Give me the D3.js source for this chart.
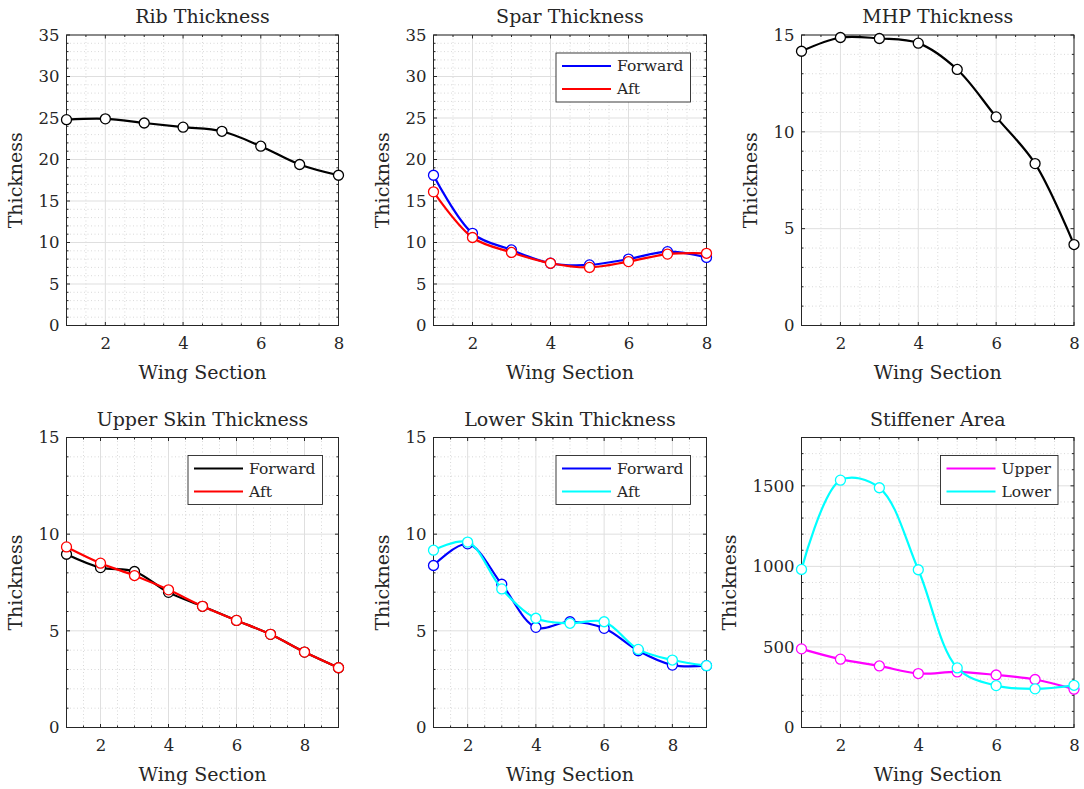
<!DOCTYPE html>
<html>
<head>
<meta charset="utf-8">
<script src="https://cdn.jsdelivr.net/npm/d3@7"></script>
<style>
  body { margin: 0; background: #fff; }
  text { font-family: "DejaVu Serif", "Liberation Serif", serif; fill: #262626; }
</style>
</head>
<body>
<script>
// wing sections
const sections8 = [1, 2, 3, 4, 5, 6, 7, 8];
const sections9 = [1, 2, 3, 4, 5, 6, 7, 8, 9];

// series values
const ribThickness = [24.8, 24.9, 24.4, 23.9, 23.4, 21.6, 19.4, 18.1];
const sparForward = [18.1, 11.1, 9.1, 7.5, 7.3, 8.0, 8.9, 8.2];
const sparAft = [16.1, 10.6, 8.8, 7.5, 7.0, 7.7, 8.6, 8.7];
const mhpThickness = [14.16, 14.87, 14.82, 14.58, 13.22, 10.77, 8.36, 4.18];
const upperSkinForward = [8.96, 8.27, 8.07, 6.99, 6.27, 5.54, 4.82, 3.9, 3.09];
const upperSkinAft = [9.34, 8.5, 7.86, 7.12, 6.27, 5.54, 4.82, 3.9, 3.09];
const lowerSkinForward = [8.38, 9.5, 7.41, 5.18, 5.47, 5.13, 3.97, 3.23, 3.2];
const lowerSkinAft = [9.17, 9.59, 7.17, 5.65, 5.39, 5.47, 4.04, 3.49, 3.2];
const stiffenerUpper = [488, 424, 382, 335, 345, 326, 298, 238];
const stiffenerLower = [981, 1535, 1488, 979, 370, 260, 240, 262];

// tick values
const xTicks = [2, 4, 6, 8];
const yTicks35 = [0, 5, 10, 15, 20, 25, 30, 35];
const yTicks15 = [0, 5, 10, 15];
const yTicksArea = [0, 500, 1000, 1500];

const w = 1084, h = 789;
const svg = d3.select('body').append('svg')
  .attr('width', w)
  .attr('height', h);

const cols = [[66.5, 272], [433.5, 273], [801.5, 272.5]];
const rows = [[35, 290.5], [437.5, 290]];
const ink = '#262626';

const panels = [
  { title: 'Rib Thickness', x: sections8, yMax: 35, yTicks: yTicks35, yMinor: 1,
    series: [{ v: ribThickness, c: '#000000' }] },
  { title: 'Spar Thickness', x: sections8, yMax: 35, yTicks: yTicks35, yMinor: 1,
    series: [{ v: sparForward, c: '#0000ff', name: 'Forward' }, { v: sparAft, c: '#ff0000', name: 'Aft' }] },
  { title: 'MHP Thickness', x: sections8, yMax: 15, yTicks: yTicks15, yMinor: 1,
    series: [{ v: mhpThickness, c: '#000000' }] },
  { title: 'Upper Skin Thickness', x: sections9, yMax: 15, yTicks: yTicks15, yMinor: 1,
    series: [{ v: upperSkinForward, c: '#000000', name: 'Forward' }, { v: upperSkinAft, c: '#ff0000', name: 'Aft' }] },
  { title: 'Lower Skin Thickness', x: sections9, yMax: 15, yTicks: yTicks15, yMinor: 1,
    series: [{ v: lowerSkinForward, c: '#0000ff', name: 'Forward' }, { v: lowerSkinAft, c: '#00ffff', name: 'Aft' }] },
  { title: 'Stiffener Area', x: sections8, yMax: 1800, yTicks: yTicksArea, yMinor: 100,
    series: [{ v: stiffenerUpper, c: '#ff00ff', name: 'Upper' }, { v: stiffenerLower, c: '#00ffff', name: 'Lower' }] }
];

panels.forEach((p, i) => {
  const [left, pw] = cols[i % 3];
  const [top, ph] = rows[Math.floor(i / 3)];
  const xMax = p.x[p.x.length - 1];

  let xScale = d3.scaleLinear().domain([1, xMax]).range([0, pw]);
  let yScale = d3.scaleLinear().domain([0, p.yMax]).range([ph, 0]);

  const g = svg.append('g').attr('transform', `translate(${left}, ${top})`);

  g.append('clipPath').attr('id', 'clip' + i)
    .append('rect').attr('width', pw).attr('height', ph);

  const xMinor = d3.range(1, xMax + 0.001, 0.5).filter(v => xTicks.indexOf(v) < 0);
  const yMinor = d3.range(0, p.yMax + 0.001, p.yMinor).filter(v => p.yTicks.indexOf(v) < 0);

  // minor grid
  g.selectAll('.xminor').data(xMinor).enter().append('line')
    .attr('x1', d => xScale(d)).attr('x2', d => xScale(d))
    .attr('y1', 0).attr('y2', ph)
    .attr('stroke', '#cfcfcf').attr('stroke-width', 0.8).attr('stroke-dasharray', '1,2.5');
  g.selectAll('.yminor').data(yMinor).enter().append('line')
    .attr('x1', 0).attr('x2', pw)
    .attr('y1', d => yScale(d)).attr('y2', d => yScale(d))
    .attr('stroke', '#cfcfcf').attr('stroke-width', 0.8).attr('stroke-dasharray', '1,2.5');

  // major grid
  g.selectAll('.xgrid').data(xTicks).enter().append('line')
    .attr('x1', d => xScale(d)).attr('x2', d => xScale(d))
    .attr('y1', 0).attr('y2', ph)
    .attr('stroke', '#dfdfdf').attr('stroke-width', 1);
  g.selectAll('.ygrid').data(p.yTicks).enter().append('line')
    .attr('x1', 0).attr('x2', pw)
    .attr('y1', d => yScale(d)).attr('y2', d => yScale(d))
    .attr('stroke', '#dfdfdf').attr('stroke-width', 1);

  // tick marks (inward, all four sides)
  const tick = (vals, len, horiz) => {
    vals.forEach(v => {
      if (horiz) {
        const x = xScale(v);
        g.append('line').attr('x1', x).attr('x2', x).attr('y1', ph).attr('y2', ph - len).attr('stroke', ink);
        g.append('line').attr('x1', x).attr('x2', x).attr('y1', 0).attr('y2', len).attr('stroke', ink);
      } else {
        const y = yScale(v);
        g.append('line').attr('x1', 0).attr('x2', len).attr('y1', y).attr('y2', y).attr('stroke', ink);
        g.append('line').attr('x1', pw).attr('x2', pw - len).attr('y1', y).attr('y2', y).attr('stroke', ink);
      }
    });
  };
  tick(xTicks, 3.5, true);
  tick(xMinor, 2, true);
  tick(p.yTicks, 3.5, false);
  tick(yMinor, 2, false);

  // axes via d3 (labels only)
  let xAxis = d3.axisBottom(xScale).tickValues(xTicks).tickFormat(d3.format('d')).tickSize(0).tickPadding(12);
  let yAxis = d3.axisLeft(yScale).tickValues(p.yTicks).tickFormat(d3.format('d')).tickSize(0).tickPadding(7);

  const gx = g.append('g').attr('transform', `translate(0, ${ph})`).call(xAxis);
  const gy = g.append('g').call(yAxis);
  [gx, gy].forEach(a => {
    a.select('.domain').remove();
    a.selectAll('text').attr('font-size', '16.5px')
      .attr('font-family', '"DejaVu Serif", serif').attr('fill', ink);
  });

  // box
  g.append('rect').attr('width', pw).attr('height', ph)
    .attr('fill', 'none').attr('stroke', ink).attr('stroke-width', 1);

  // series
  const plot = g.append('g');
  p.series.forEach(s => {
    const pts = p.x.map((x, k) => [x, s.v[k]]);
    const line = d3.line()
      .x(d => xScale(d[0]))
      .y(d => yScale(d[1]))
      .curve(d3.curveCatmullRom.alpha(0.5));
    plot.append('path')
      .datum(pts)
      .attr('clip-path', `url(#clip${i})`)
      .attr('d', line)
      .attr('fill', 'none')
      .attr('stroke', s.c)
      .attr('stroke-width', 2.2);
    plot.selectAll(null)
      .data(pts)
      .enter()
      .append('circle')
      .attr('cx', d => xScale(d[0]))
      .attr('cy', d => yScale(d[1]))
      .attr('r', 5)
      .attr('fill', '#fff')
      .attr('stroke', s.c)
      .attr('stroke-width', 1.3);
  });

  // titles and labels
  g.append('text')
    .attr('x', pw / 2).attr('y', -12)
    .attr('text-anchor', 'middle')
    .attr('font-size', '19px')
    .text(p.title);
  g.append('text')
    .attr('x', pw / 2).attr('y', ph + 53)
    .attr('text-anchor', 'middle')
    .attr('font-size', '19px')
    .text('Wing Section');

  let maxW = 0;
  gy.selectAll('text').each(function () { maxW = Math.max(maxW, this.getComputedTextLength()); });
  g.append('text')
    .attr('transform', `translate(${-(maxW + 7 + 17)}, ${ph / 2}) rotate(-90)`)
    .attr('text-anchor', 'middle')
    .attr('font-size', '19px')
    .text('Thickness');

  // legend
  const named = p.series.filter(s => s.name);
  if (named.length) {
    const lg = g.append('g');
    const texts = [];
    named.forEach((s, k) => {
      texts.push(lg.append('text')
        .attr('y', 13 + k * 23)
        .attr('dy', '0.35em')
        .attr('font-size', '15.5px')
        .text(s.name));
    });
    let tw = d3.max(texts, t => t.node().getComputedTextLength());
    const lw = 6 + 49 + 6 + tw + 7;
    const lx = pw - 16 - lw;
    lg.attr('transform', `translate(${lx}, 18)`);
    lg.insert('rect', ':first-child')
      .attr('width', lw).attr('height', 49)
      .attr('fill', '#fff').attr('stroke', ink).attr('stroke-width', 0.9);
    named.forEach((s, k) => {
      lg.append('line')
        .attr('x1', 6).attr('x2', 55)
        .attr('y1', 13 + k * 23).attr('y2', 13 + k * 23)
        .attr('stroke', s.c).attr('stroke-width', 2.2);
    });
    texts.forEach(t => t.attr('x', 61));
  }
});
</script>
</body>
</html>
